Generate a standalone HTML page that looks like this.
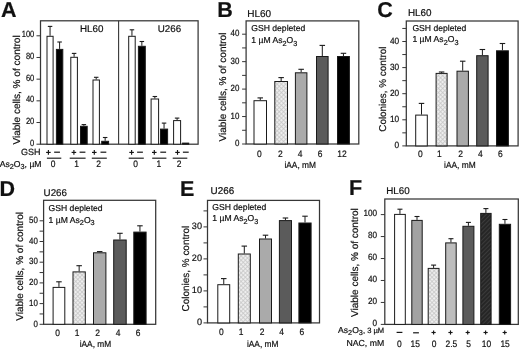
<!DOCTYPE html>
<html><head><meta charset="utf-8"><style>
html,body{margin:0;padding:0;background:#fff;}
body{width:520px;height:349px;overflow:hidden;}
svg{display:block;filter:blur(0.4px);}
text{font-family:"Liberation Sans", sans-serif;fill:#111;stroke:#111;stroke-width:0.2px;text-rendering:geometricPrecision;}
</style></head><body>
<svg width="520" height="349" viewBox="0 0 520 349">
<defs>
<pattern id="hatchL" patternUnits="userSpaceOnUse" width="3" height="3" patternTransform="rotate(45)">
<rect width="3" height="3" fill="#eeeeee"/><line x1="0" y1="0" x2="0" y2="3" stroke="#a8a8a8" stroke-width="0.9"/><line x1="0" y1="1.5" x2="3" y2="1.5" stroke="#c6c6c6" stroke-width="0.8"/>
</pattern>
<pattern id="hatchD" patternUnits="userSpaceOnUse" width="3" height="3" patternTransform="rotate(45)">
<rect width="3" height="3" fill="#262626"/><line x1="0" y1="0" x2="0" y2="3" stroke="#505050" stroke-width="1"/>
</pattern>
</defs>
<rect width="520" height="349" fill="#fff"/>
<text x="1.0" y="17" font-size="21.5" text-anchor="start" font-weight="bold" >A</text>
<rect x="40.5" y="20.8" width="157.6" height="123.39999999999999" fill="none" stroke="#363636" stroke-width="1.25"/>
<line x1="118.6" y1="20.8" x2="118.6" y2="144.2" stroke="#363636" stroke-width="1.1"/>
<line x1="36.5" y1="144.2" x2="40.5" y2="144.2" stroke="#363636" stroke-width="1"/>
<line x1="36.5" y1="122.51999999999998" x2="40.5" y2="122.51999999999998" stroke="#363636" stroke-width="1"/>
<line x1="36.5" y1="100.83999999999999" x2="40.5" y2="100.83999999999999" stroke="#363636" stroke-width="1"/>
<line x1="36.5" y1="79.15999999999998" x2="40.5" y2="79.15999999999998" stroke="#363636" stroke-width="1"/>
<line x1="36.5" y1="57.47999999999999" x2="40.5" y2="57.47999999999999" stroke="#363636" stroke-width="1"/>
<line x1="36.5" y1="35.79999999999998" x2="40.5" y2="35.79999999999998" stroke="#363636" stroke-width="1"/>
<text transform="translate(34.3,145.7) scale(0.84,1)" font-size="9" text-anchor="end">0</text>
<text transform="translate(34.3,124.02) scale(0.84,1)" font-size="9" text-anchor="end">20</text>
<text transform="translate(34.3,102.34) scale(0.84,1)" font-size="9" text-anchor="end">40</text>
<text transform="translate(34.3,80.66) scale(0.84,1)" font-size="9" text-anchor="end">60</text>
<text transform="translate(34.3,58.98) scale(0.84,1)" font-size="9" text-anchor="end">80</text>
<text transform="translate(34.3,37.3) scale(0.84,1)" font-size="9" text-anchor="end">100</text>
<text transform="translate(19.7,144.6) rotate(-90)" x="0" y="0" font-size="10.05">Viable cells, % of control</text>
<text x="80.0" y="31.6" font-size="9.8" text-anchor="start" font-weight="normal" >HL60</text>
<text x="157.7" y="31.5" font-size="9.8" text-anchor="start" font-weight="normal" >U266</text>
<line x1="50.05" y1="35.8" x2="50.05" y2="26.4" stroke="#1a1a1a" stroke-width="1"/>
<line x1="47.8" y1="26.4" x2="52.3" y2="26.4" stroke="#1a1a1a" stroke-width="1.1"/>
<rect x="47.0" y="36.3" width="6.100000000000001" height="107.89999999999999" fill="#fff" stroke="#1a1a1a" stroke-width="1"/>
<line x1="59.599999999999994" y1="48.9" x2="59.599999999999994" y2="42.0" stroke="#1a1a1a" stroke-width="1"/>
<line x1="57.349999999999994" y1="42.0" x2="61.849999999999994" y2="42.0" stroke="#1a1a1a" stroke-width="1.1"/>
<rect x="56.4" y="49.4" width="6.399999999999999" height="94.79999999999998" fill="#000" stroke="#1a1a1a" stroke-width="1"/>
<line x1="74.1" y1="56.8" x2="74.1" y2="53.4" stroke="#1a1a1a" stroke-width="1"/>
<line x1="71.85" y1="53.4" x2="76.35" y2="53.4" stroke="#1a1a1a" stroke-width="1.1"/>
<rect x="70.8" y="57.3" width="6.6000000000000085" height="86.89999999999999" fill="#fff" stroke="#1a1a1a" stroke-width="1"/>
<line x1="83.85" y1="125.8" x2="83.85" y2="124.6" stroke="#1a1a1a" stroke-width="1"/>
<line x1="81.6" y1="124.6" x2="86.1" y2="124.6" stroke="#1a1a1a" stroke-width="1.1"/>
<rect x="80.5" y="126.3" width="6.700000000000003" height="17.89999999999999" fill="#000" stroke="#1a1a1a" stroke-width="1"/>
<line x1="96.2" y1="79.5" x2="96.2" y2="77.3" stroke="#1a1a1a" stroke-width="1"/>
<line x1="93.95" y1="77.3" x2="98.45" y2="77.3" stroke="#1a1a1a" stroke-width="1.1"/>
<rect x="93.0" y="80.0" width="6.400000000000006" height="64.19999999999999" fill="#fff" stroke="#1a1a1a" stroke-width="1"/>
<line x1="105.15" y1="140.8" x2="105.15" y2="137.5" stroke="#1a1a1a" stroke-width="1"/>
<line x1="102.9" y1="137.5" x2="107.4" y2="137.5" stroke="#1a1a1a" stroke-width="1.1"/>
<rect x="101.7" y="141.3" width="6.8999999999999915" height="2.8999999999999773" fill="#000" stroke="#1a1a1a" stroke-width="1"/>
<line x1="131.95" y1="35.8" x2="131.95" y2="29.8" stroke="#1a1a1a" stroke-width="1"/>
<line x1="129.7" y1="29.8" x2="134.2" y2="29.8" stroke="#1a1a1a" stroke-width="1.1"/>
<rect x="128.7" y="36.3" width="6.5" height="107.89999999999999" fill="#fff" stroke="#1a1a1a" stroke-width="1"/>
<line x1="141.85000000000002" y1="45.8" x2="141.85000000000002" y2="41.5" stroke="#1a1a1a" stroke-width="1"/>
<line x1="139.60000000000002" y1="41.5" x2="144.10000000000002" y2="41.5" stroke="#1a1a1a" stroke-width="1.1"/>
<rect x="138.4" y="46.3" width="6.900000000000006" height="97.89999999999999" fill="#000" stroke="#1a1a1a" stroke-width="1"/>
<line x1="154.85" y1="98.5" x2="154.85" y2="96.5" stroke="#1a1a1a" stroke-width="1"/>
<line x1="152.6" y1="96.5" x2="157.1" y2="96.5" stroke="#1a1a1a" stroke-width="1.1"/>
<rect x="151.1" y="99.0" width="7.5" height="45.19999999999999" fill="#fff" stroke="#1a1a1a" stroke-width="1"/>
<line x1="164.05" y1="128.6" x2="164.05" y2="123.1" stroke="#1a1a1a" stroke-width="1"/>
<line x1="161.8" y1="123.1" x2="166.3" y2="123.1" stroke="#1a1a1a" stroke-width="1.1"/>
<rect x="160.5" y="129.1" width="7.099999999999994" height="15.099999999999994" fill="#000" stroke="#1a1a1a" stroke-width="1"/>
<line x1="177.1" y1="120.1" x2="177.1" y2="118.1" stroke="#1a1a1a" stroke-width="1"/>
<line x1="174.85" y1="118.1" x2="179.35" y2="118.1" stroke="#1a1a1a" stroke-width="1.1"/>
<rect x="173.6" y="120.6" width="7.0" height="23.599999999999994" fill="#fff" stroke="#1a1a1a" stroke-width="1"/>
<rect x="182.6" y="143.1" width="6.099999999999994" height="1.0999999999999943" fill="#000" stroke="#1a1a1a" stroke-width="1"/>
<text x="40.4" y="154.6" font-size="9" text-anchor="end" font-weight="normal" >GSH</text>
<line x1="46.1" y1="152.4" x2="50.699999999999996" y2="152.4" stroke="#151515" stroke-width="1.15"/>
<line x1="48.4" y1="150.0" x2="48.4" y2="154.8" stroke="#151515" stroke-width="1.15"/>
<line x1="54.15" y1="152.2" x2="59.949999999999996" y2="152.2" stroke="#151515" stroke-width="1.2"/>
<line x1="71.60000000000001" y1="152.4" x2="76.2" y2="152.4" stroke="#151515" stroke-width="1.15"/>
<line x1="73.9" y1="150.0" x2="73.9" y2="154.8" stroke="#151515" stroke-width="1.15"/>
<line x1="79.6" y1="152.2" x2="85.4" y2="152.2" stroke="#151515" stroke-width="1.2"/>
<line x1="92.0" y1="152.4" x2="96.6" y2="152.4" stroke="#151515" stroke-width="1.15"/>
<line x1="94.3" y1="150.0" x2="94.3" y2="154.8" stroke="#151515" stroke-width="1.15"/>
<line x1="100.5" y1="152.2" x2="106.30000000000001" y2="152.2" stroke="#151515" stroke-width="1.2"/>
<line x1="129.29999999999998" y1="152.4" x2="133.9" y2="152.4" stroke="#151515" stroke-width="1.15"/>
<line x1="131.6" y1="150.0" x2="131.6" y2="154.8" stroke="#151515" stroke-width="1.15"/>
<line x1="137.1" y1="152.2" x2="142.9" y2="152.2" stroke="#151515" stroke-width="1.2"/>
<line x1="152.0" y1="152.4" x2="156.60000000000002" y2="152.4" stroke="#151515" stroke-width="1.15"/>
<line x1="154.3" y1="150.0" x2="154.3" y2="154.8" stroke="#151515" stroke-width="1.15"/>
<line x1="160.29999999999998" y1="152.2" x2="166.1" y2="152.2" stroke="#151515" stroke-width="1.2"/>
<line x1="175.2" y1="152.4" x2="179.8" y2="152.4" stroke="#151515" stroke-width="1.15"/>
<line x1="177.5" y1="150.0" x2="177.5" y2="154.8" stroke="#151515" stroke-width="1.15"/>
<line x1="182.9" y1="152.2" x2="188.70000000000002" y2="152.2" stroke="#151515" stroke-width="1.2"/>
<line x1="46.9" y1="158.2" x2="61.3" y2="158.2" stroke="#222" stroke-width="1.2"/>
<line x1="69.7" y1="158.2" x2="85.6" y2="158.2" stroke="#222" stroke-width="1.2"/>
<line x1="91.8" y1="158.2" x2="106.8" y2="158.2" stroke="#222" stroke-width="1.2"/>
<line x1="128.7" y1="158.2" x2="143.8" y2="158.2" stroke="#222" stroke-width="1.2"/>
<line x1="152.2" y1="158.2" x2="166.4" y2="158.2" stroke="#222" stroke-width="1.2"/>
<line x1="172.7" y1="158.2" x2="187.3" y2="158.2" stroke="#222" stroke-width="1.2"/>
<text x="41.5" y="166.6" font-size="8.6" text-anchor="end">As<tspan font-size="7.31" dy="2.3">2</tspan><tspan dy="-2.3">O</tspan><tspan font-size="7.31" dy="2.3">3</tspan><tspan dy="-2.3">, µM</tspan></text>
<text transform="translate(53.1,167.4) scale(0.9,1)" font-size="9.4" text-anchor="middle">0</text>
<text transform="translate(76.5,167.4) scale(0.9,1)" font-size="9.4" text-anchor="middle">1</text>
<text transform="translate(98.6,167.4) scale(0.9,1)" font-size="9.4" text-anchor="middle">2</text>
<text transform="translate(135.6,167.4) scale(0.9,1)" font-size="9.4" text-anchor="middle">0</text>
<text transform="translate(158.9,167.4) scale(0.9,1)" font-size="9.4" text-anchor="middle">1</text>
<text transform="translate(179.0,167.4) scale(0.9,1)" font-size="9.4" text-anchor="middle">2</text>
<text x="217.2" y="17.0" font-size="21.5" text-anchor="start" font-weight="bold" >B</text>
<text x="247.2" y="16.9" font-size="10" text-anchor="start" font-weight="normal" >HL60</text>
<rect x="246.1" y="20.9" width="112.70000000000002" height="123.1" fill="none" stroke="#363636" stroke-width="1.25"/>
<line x1="242.1" y1="144.0" x2="246.1" y2="144.0" stroke="#363636" stroke-width="1"/>
<line x1="242.1" y1="130.275" x2="246.1" y2="130.275" stroke="#363636" stroke-width="1"/>
<line x1="242.1" y1="116.55" x2="246.1" y2="116.55" stroke="#363636" stroke-width="1"/>
<line x1="242.1" y1="102.82499999999999" x2="246.1" y2="102.82499999999999" stroke="#363636" stroke-width="1"/>
<line x1="242.1" y1="89.1" x2="246.1" y2="89.1" stroke="#363636" stroke-width="1"/>
<line x1="242.1" y1="75.375" x2="246.1" y2="75.375" stroke="#363636" stroke-width="1"/>
<line x1="242.1" y1="61.64999999999999" x2="246.1" y2="61.64999999999999" stroke="#363636" stroke-width="1"/>
<line x1="242.1" y1="47.925" x2="246.1" y2="47.925" stroke="#363636" stroke-width="1"/>
<line x1="242.1" y1="34.19999999999999" x2="246.1" y2="34.19999999999999" stroke="#363636" stroke-width="1"/>
<text transform="translate(239.3,146.2) scale(0.88,1)" font-size="9" text-anchor="end">0</text>
<text transform="translate(239.3,118.75) scale(0.88,1)" font-size="9" text-anchor="end">10</text>
<text transform="translate(239.3,91.3) scale(0.88,1)" font-size="9" text-anchor="end">20</text>
<text transform="translate(239.3,63.85) scale(0.88,1)" font-size="9" text-anchor="end">30</text>
<text transform="translate(239.3,36.4) scale(0.88,1)" font-size="9" text-anchor="end">40</text>
<text transform="translate(226.3,141.4) rotate(-90)" x="0" y="0" font-size="10">Viable cells, % of control</text>
<text x="251.3" y="31.2" font-size="8.6" text-anchor="start" font-weight="normal" >GSH depleted</text>
<text x="251.3" y="43.3" font-size="8.6" text-anchor="start">1 µM As<tspan font-size="7.31" dy="2.4">2</tspan><tspan dy="-2.4">O</tspan><tspan font-size="7.31" dy="2.4">3</tspan></text>
<line x1="260.25" y1="100.2" x2="260.25" y2="97.9" stroke="#1a1a1a" stroke-width="1"/>
<line x1="257.5" y1="97.9" x2="263.0" y2="97.9" stroke="#1a1a1a" stroke-width="1.1"/>
<rect x="254.0" y="100.7" width="12.5" height="43.3" fill="#fff" stroke="#1a1a1a" stroke-width="1"/>
<line x1="281.15" y1="81.0" x2="281.15" y2="77.6" stroke="#1a1a1a" stroke-width="1"/>
<line x1="278.4" y1="77.6" x2="283.9" y2="77.6" stroke="#1a1a1a" stroke-width="1.1"/>
<rect x="274.8" y="81.5" width="12.699999999999989" height="62.5" fill="url(#hatchL)" stroke="#1a1a1a" stroke-width="1"/>
<line x1="301.15" y1="72.3" x2="301.15" y2="69.3" stroke="#1a1a1a" stroke-width="1"/>
<line x1="298.4" y1="69.3" x2="303.9" y2="69.3" stroke="#1a1a1a" stroke-width="1.1"/>
<rect x="295.4" y="72.8" width="11.5" height="71.2" fill="#aaaaaa" stroke="#1a1a1a" stroke-width="1"/>
<line x1="322.3" y1="56.0" x2="322.3" y2="45.4" stroke="#1a1a1a" stroke-width="1"/>
<line x1="319.55" y1="45.4" x2="325.05" y2="45.4" stroke="#1a1a1a" stroke-width="1.1"/>
<rect x="316.5" y="56.5" width="11.600000000000023" height="87.5" fill="#5b5b5b" stroke="#1a1a1a" stroke-width="1"/>
<line x1="343.45" y1="56.0" x2="343.45" y2="53.3" stroke="#1a1a1a" stroke-width="1"/>
<line x1="340.7" y1="53.3" x2="346.2" y2="53.3" stroke="#1a1a1a" stroke-width="1.1"/>
<rect x="337.5" y="56.5" width="11.899999999999977" height="87.5" fill="#000" stroke="#1a1a1a" stroke-width="1"/>
<text transform="translate(259.4,157.2) scale(0.9,1)" font-size="9.4" text-anchor="middle">0</text>
<text transform="translate(280.3,157.2) scale(0.9,1)" font-size="9.4" text-anchor="middle">2</text>
<text transform="translate(300.2,157.2) scale(0.9,1)" font-size="9.4" text-anchor="middle">4</text>
<text transform="translate(320.1,157.2) scale(0.9,1)" font-size="9.4" text-anchor="middle">6</text>
<text transform="translate(342.0,157.2) scale(0.9,1)" font-size="9.4" text-anchor="middle">12</text>
<text transform="translate(300.2,167.8) scale(0.94,1)" font-size="8.9" text-anchor="middle">iAA, mM</text>
<text x="377.2" y="17.2" font-size="21.5" text-anchor="start" font-weight="bold" >C</text>
<text x="407.9" y="15.7" font-size="9.9" text-anchor="start" font-weight="normal" >HL60</text>
<rect x="406.3" y="21.0" width="111.80000000000001" height="124.9" fill="none" stroke="#363636" stroke-width="1.25"/>
<line x1="402.3" y1="145.9" x2="406.3" y2="145.9" stroke="#363636" stroke-width="1"/>
<line x1="402.3" y1="132.85" x2="406.3" y2="132.85" stroke="#363636" stroke-width="1"/>
<line x1="402.3" y1="119.80000000000001" x2="406.3" y2="119.80000000000001" stroke="#363636" stroke-width="1"/>
<line x1="402.3" y1="106.75" x2="406.3" y2="106.75" stroke="#363636" stroke-width="1"/>
<line x1="402.3" y1="93.70000000000002" x2="406.3" y2="93.70000000000002" stroke="#363636" stroke-width="1"/>
<line x1="402.3" y1="80.65" x2="406.3" y2="80.65" stroke="#363636" stroke-width="1"/>
<line x1="402.3" y1="67.60000000000001" x2="406.3" y2="67.60000000000001" stroke="#363636" stroke-width="1"/>
<line x1="402.3" y1="54.55000000000001" x2="406.3" y2="54.55000000000001" stroke="#363636" stroke-width="1"/>
<line x1="402.3" y1="41.500000000000014" x2="406.3" y2="41.500000000000014" stroke="#363636" stroke-width="1"/>
<line x1="402.3" y1="28.450000000000017" x2="406.3" y2="28.450000000000017" stroke="#363636" stroke-width="1"/>
<text transform="translate(399.2,148.1) scale(0.92,1)" font-size="9" text-anchor="end">0</text>
<text transform="translate(399.2,122.0) scale(0.92,1)" font-size="9" text-anchor="end">10</text>
<text transform="translate(399.2,95.9) scale(0.92,1)" font-size="9" text-anchor="end">20</text>
<text transform="translate(399.2,69.8) scale(0.92,1)" font-size="9" text-anchor="end">30</text>
<text transform="translate(399.2,43.7) scale(0.92,1)" font-size="9" text-anchor="end">40</text>
<text transform="translate(386.4,131.7) rotate(-90)" x="0" y="0" font-size="9.9">Colonies, % control</text>
<text x="412.4" y="30.7" font-size="8.6" text-anchor="start" font-weight="normal" >GSH depleted</text>
<text x="412.4" y="42.4" font-size="8.6" text-anchor="start">1 µM As<tspan font-size="7.31" dy="2.4">2</tspan><tspan dy="-2.4">O</tspan><tspan font-size="7.31" dy="2.4">3</tspan></text>
<line x1="421.5" y1="114.6" x2="421.5" y2="103.4" stroke="#1a1a1a" stroke-width="1"/>
<line x1="418.75" y1="103.4" x2="424.25" y2="103.4" stroke="#1a1a1a" stroke-width="1.1"/>
<rect x="415.7" y="115.1" width="11.600000000000023" height="30.80000000000001" fill="#fff" stroke="#1a1a1a" stroke-width="1"/>
<line x1="441.6" y1="72.9" x2="441.6" y2="72.0" stroke="#1a1a1a" stroke-width="1"/>
<line x1="438.85" y1="72.0" x2="444.35" y2="72.0" stroke="#1a1a1a" stroke-width="1.1"/>
<rect x="436.1" y="73.4" width="11.0" height="72.5" fill="url(#hatchL)" stroke="#1a1a1a" stroke-width="1"/>
<line x1="462.7" y1="70.7" x2="462.7" y2="61.2" stroke="#1a1a1a" stroke-width="1"/>
<line x1="459.95" y1="61.2" x2="465.45" y2="61.2" stroke="#1a1a1a" stroke-width="1.1"/>
<rect x="457.0" y="71.2" width="11.399999999999977" height="74.7" fill="#aaaaaa" stroke="#1a1a1a" stroke-width="1"/>
<line x1="482.4" y1="55.2" x2="482.4" y2="49.5" stroke="#1a1a1a" stroke-width="1"/>
<line x1="479.65" y1="49.5" x2="485.15" y2="49.5" stroke="#1a1a1a" stroke-width="1.1"/>
<rect x="476.7" y="55.7" width="11.400000000000034" height="90.2" fill="#5b5b5b" stroke="#1a1a1a" stroke-width="1"/>
<line x1="502.45" y1="50.3" x2="502.45" y2="43.5" stroke="#1a1a1a" stroke-width="1"/>
<line x1="499.7" y1="43.5" x2="505.2" y2="43.5" stroke="#1a1a1a" stroke-width="1.1"/>
<rect x="496.5" y="50.8" width="11.899999999999977" height="95.10000000000001" fill="#000" stroke="#1a1a1a" stroke-width="1"/>
<text transform="translate(420.3,156.5) scale(0.9,1)" font-size="9.4" text-anchor="middle">0</text>
<text transform="translate(439.3,156.5) scale(0.9,1)" font-size="9.4" text-anchor="middle">1</text>
<text transform="translate(460.5,156.5) scale(0.9,1)" font-size="9.4" text-anchor="middle">2</text>
<text transform="translate(480.3,156.5) scale(0.9,1)" font-size="9.4" text-anchor="middle">4</text>
<text transform="translate(500.4,156.5) scale(0.9,1)" font-size="9.4" text-anchor="middle">6</text>
<text transform="translate(459.85,167.8) scale(0.94,1)" font-size="8.9" text-anchor="middle">iAA, mM</text>
<text x="-0.6" y="195.8" font-size="21.5" text-anchor="start" font-weight="bold" >D</text>
<text x="43.6" y="195.6" font-size="9.8" text-anchor="start" font-weight="normal" >U266</text>
<rect x="43.6" y="200.3" width="112.1" height="124.0" fill="none" stroke="#363636" stroke-width="1.25"/>
<line x1="39.6" y1="324.3" x2="43.6" y2="324.3" stroke="#363636" stroke-width="1"/>
<line x1="39.6" y1="313.95" x2="43.6" y2="313.95" stroke="#363636" stroke-width="1"/>
<line x1="39.6" y1="303.6" x2="43.6" y2="303.6" stroke="#363636" stroke-width="1"/>
<line x1="39.6" y1="293.25" x2="43.6" y2="293.25" stroke="#363636" stroke-width="1"/>
<line x1="39.6" y1="282.90000000000003" x2="43.6" y2="282.90000000000003" stroke="#363636" stroke-width="1"/>
<line x1="39.6" y1="272.55" x2="43.6" y2="272.55" stroke="#363636" stroke-width="1"/>
<line x1="39.6" y1="262.20000000000005" x2="43.6" y2="262.20000000000005" stroke="#363636" stroke-width="1"/>
<line x1="39.6" y1="251.85000000000002" x2="43.6" y2="251.85000000000002" stroke="#363636" stroke-width="1"/>
<line x1="39.6" y1="241.5" x2="43.6" y2="241.5" stroke="#363636" stroke-width="1"/>
<line x1="39.6" y1="231.15000000000003" x2="43.6" y2="231.15000000000003" stroke="#363636" stroke-width="1"/>
<line x1="39.6" y1="220.8" x2="43.6" y2="220.8" stroke="#363636" stroke-width="1"/>
<text transform="translate(37.9,326.5) scale(0.88,1)" font-size="9" text-anchor="end">0</text>
<text transform="translate(37.9,305.8) scale(0.88,1)" font-size="9" text-anchor="end">10</text>
<text transform="translate(37.9,285.1) scale(0.88,1)" font-size="9" text-anchor="end">20</text>
<text transform="translate(37.9,264.4) scale(0.88,1)" font-size="9" text-anchor="end">30</text>
<text transform="translate(37.9,243.7) scale(0.88,1)" font-size="9" text-anchor="end">40</text>
<text transform="translate(37.9,223.0) scale(0.88,1)" font-size="9" text-anchor="end">50</text>
<text transform="translate(22.6,320.8) rotate(-90)" x="0" y="0" font-size="10">Viable cells, % of control</text>
<text x="48.6" y="211.0" font-size="8.6" text-anchor="start" font-weight="normal" >GSH depleted</text>
<text x="48.6" y="222.9" font-size="8.6" text-anchor="start">1 µM As<tspan font-size="7.31" dy="2.4">2</tspan><tspan dy="-2.4">O</tspan><tspan font-size="7.31" dy="2.4">3</tspan></text>
<line x1="58.95" y1="286.9" x2="58.95" y2="281.8" stroke="#1a1a1a" stroke-width="1"/>
<line x1="56.2" y1="281.8" x2="61.7" y2="281.8" stroke="#1a1a1a" stroke-width="1.1"/>
<rect x="53.1" y="287.4" width="11.699999999999996" height="36.900000000000034" fill="#fff" stroke="#1a1a1a" stroke-width="1"/>
<line x1="79.15" y1="271.4" x2="79.15" y2="265.7" stroke="#1a1a1a" stroke-width="1"/>
<line x1="76.4" y1="265.7" x2="81.9" y2="265.7" stroke="#1a1a1a" stroke-width="1.1"/>
<rect x="73.0" y="271.9" width="12.299999999999997" height="52.400000000000034" fill="url(#hatchL)" stroke="#1a1a1a" stroke-width="1"/>
<line x1="99.7" y1="252.3" x2="99.7" y2="251.6" stroke="#1a1a1a" stroke-width="1"/>
<line x1="96.95" y1="251.6" x2="102.45" y2="251.6" stroke="#1a1a1a" stroke-width="1.1"/>
<rect x="93.5" y="252.8" width="12.400000000000006" height="71.5" fill="#aaaaaa" stroke="#1a1a1a" stroke-width="1"/>
<line x1="119.95" y1="239.5" x2="119.95" y2="233.3" stroke="#1a1a1a" stroke-width="1"/>
<line x1="117.2" y1="233.3" x2="122.7" y2="233.3" stroke="#1a1a1a" stroke-width="1.1"/>
<rect x="113.7" y="240.0" width="12.5" height="84.30000000000001" fill="#5b5b5b" stroke="#1a1a1a" stroke-width="1"/>
<line x1="139.95" y1="231.6" x2="139.95" y2="225.8" stroke="#1a1a1a" stroke-width="1"/>
<line x1="137.2" y1="225.8" x2="142.7" y2="225.8" stroke="#1a1a1a" stroke-width="1.1"/>
<rect x="133.8" y="232.1" width="12.299999999999983" height="92.20000000000002" fill="#000" stroke="#1a1a1a" stroke-width="1"/>
<text transform="translate(57.5,335.7) scale(0.9,1)" font-size="9.4" text-anchor="middle">0</text>
<text transform="translate(77.1,335.7) scale(0.9,1)" font-size="9.4" text-anchor="middle">1</text>
<text transform="translate(97.7,335.7) scale(0.9,1)" font-size="9.4" text-anchor="middle">2</text>
<text transform="translate(118.0,335.7) scale(0.9,1)" font-size="9.4" text-anchor="middle">4</text>
<text transform="translate(138.1,335.7) scale(0.9,1)" font-size="9.4" text-anchor="middle">6</text>
<text transform="translate(95.45,346.6) scale(0.94,1)" font-size="8.9" text-anchor="middle">iAA, mM</text>
<text x="180.0" y="195.6" font-size="21.5" text-anchor="start" font-weight="bold" >E</text>
<text x="210.6" y="193.8" font-size="9.9" text-anchor="start" font-weight="normal" >U266</text>
<rect x="207.5" y="200.4" width="112.0" height="122.49999999999997" fill="none" stroke="#363636" stroke-width="1.25"/>
<line x1="203.5" y1="322.9" x2="207.5" y2="322.9" stroke="#363636" stroke-width="1"/>
<line x1="203.5" y1="306.9" x2="207.5" y2="306.9" stroke="#363636" stroke-width="1"/>
<line x1="203.5" y1="290.9" x2="207.5" y2="290.9" stroke="#363636" stroke-width="1"/>
<line x1="203.5" y1="274.9" x2="207.5" y2="274.9" stroke="#363636" stroke-width="1"/>
<line x1="203.5" y1="258.9" x2="207.5" y2="258.9" stroke="#363636" stroke-width="1"/>
<line x1="203.5" y1="242.89999999999998" x2="207.5" y2="242.89999999999998" stroke="#363636" stroke-width="1"/>
<line x1="203.5" y1="226.89999999999998" x2="207.5" y2="226.89999999999998" stroke="#363636" stroke-width="1"/>
<line x1="203.5" y1="210.89999999999998" x2="207.5" y2="210.89999999999998" stroke="#363636" stroke-width="1"/>
<text transform="translate(202.0,325.1) scale(0.99,1)" font-size="9.2" text-anchor="end">0</text>
<text transform="translate(202.0,293.1) scale(0.99,1)" font-size="9.2" text-anchor="end">10</text>
<text transform="translate(202.0,261.1) scale(0.99,1)" font-size="9.2" text-anchor="end">20</text>
<text transform="translate(202.0,229.1) scale(0.99,1)" font-size="9.2" text-anchor="end">30</text>
<text transform="translate(189.4,311.4) rotate(-90)" x="0" y="0" font-size="9.95">Colonies, % control</text>
<text x="212.3" y="209.6" font-size="8.6" text-anchor="start" font-weight="normal" >GSH depleted</text>
<text x="212.3" y="221.2" font-size="8.6" text-anchor="start">1 µM As<tspan font-size="7.31" dy="2.4">2</tspan><tspan dy="-2.4">O</tspan><tspan font-size="7.31" dy="2.4">3</tspan></text>
<line x1="223.75" y1="284.2" x2="223.75" y2="278.6" stroke="#1a1a1a" stroke-width="1"/>
<line x1="221.0" y1="278.6" x2="226.5" y2="278.6" stroke="#1a1a1a" stroke-width="1.1"/>
<rect x="217.8" y="284.7" width="11.899999999999977" height="38.19999999999999" fill="#fff" stroke="#1a1a1a" stroke-width="1"/>
<line x1="244.3" y1="253.5" x2="244.3" y2="246.1" stroke="#1a1a1a" stroke-width="1"/>
<line x1="241.55" y1="246.1" x2="247.05" y2="246.1" stroke="#1a1a1a" stroke-width="1.1"/>
<rect x="238.3" y="254.0" width="12.0" height="68.89999999999998" fill="url(#hatchL)" stroke="#1a1a1a" stroke-width="1"/>
<line x1="265.5" y1="238.5" x2="265.5" y2="235.2" stroke="#1a1a1a" stroke-width="1"/>
<line x1="262.75" y1="235.2" x2="268.25" y2="235.2" stroke="#1a1a1a" stroke-width="1.1"/>
<rect x="259.5" y="239.0" width="12.0" height="83.89999999999998" fill="#aaaaaa" stroke="#1a1a1a" stroke-width="1"/>
<line x1="285.45" y1="220.1" x2="285.45" y2="218.0" stroke="#1a1a1a" stroke-width="1"/>
<line x1="282.7" y1="218.0" x2="288.2" y2="218.0" stroke="#1a1a1a" stroke-width="1.1"/>
<rect x="279.4" y="220.6" width="12.100000000000023" height="102.29999999999998" fill="#5b5b5b" stroke="#1a1a1a" stroke-width="1"/>
<line x1="305.0" y1="222.5" x2="305.0" y2="216.2" stroke="#1a1a1a" stroke-width="1"/>
<line x1="302.25" y1="216.2" x2="307.75" y2="216.2" stroke="#1a1a1a" stroke-width="1.1"/>
<rect x="298.9" y="223.0" width="12.200000000000045" height="99.89999999999998" fill="#000" stroke="#1a1a1a" stroke-width="1"/>
<text transform="translate(221.4,334.9) scale(0.9,1)" font-size="9.4" text-anchor="middle">0</text>
<text transform="translate(241.2,334.9) scale(0.9,1)" font-size="9.4" text-anchor="middle">1</text>
<text transform="translate(262.0,334.9) scale(0.9,1)" font-size="9.4" text-anchor="middle">2</text>
<text transform="translate(281.7,334.9) scale(0.9,1)" font-size="9.4" text-anchor="middle">4</text>
<text transform="translate(301.8,334.9) scale(0.9,1)" font-size="9.4" text-anchor="middle">6</text>
<text transform="translate(262.7,346.6) scale(0.94,1)" font-size="8.9" text-anchor="middle">iAA, mM</text>
<text x="349.0" y="195.4" font-size="21.5" text-anchor="start" font-weight="bold" >F</text>
<text x="386.2" y="193.8" font-size="9.8" text-anchor="start" font-weight="normal" >HL60</text>
<rect x="384.8" y="199.0" width="133.49999999999994" height="125.39999999999998" fill="none" stroke="#363636" stroke-width="1.25"/>
<line x1="380.8" y1="324.4" x2="384.8" y2="324.4" stroke="#363636" stroke-width="1"/>
<line x1="380.8" y1="302.44" x2="384.8" y2="302.44" stroke="#363636" stroke-width="1"/>
<line x1="380.8" y1="280.47999999999996" x2="384.8" y2="280.47999999999996" stroke="#363636" stroke-width="1"/>
<line x1="380.8" y1="258.52" x2="384.8" y2="258.52" stroke="#363636" stroke-width="1"/>
<line x1="380.8" y1="236.55999999999997" x2="384.8" y2="236.55999999999997" stroke="#363636" stroke-width="1"/>
<line x1="380.8" y1="214.59999999999997" x2="384.8" y2="214.59999999999997" stroke="#363636" stroke-width="1"/>
<text transform="translate(377.1,325.8) scale(0.91,1)" font-size="9" text-anchor="end">0</text>
<text transform="translate(377.1,303.84) scale(0.91,1)" font-size="9" text-anchor="end">20</text>
<text transform="translate(377.1,281.88) scale(0.91,1)" font-size="9" text-anchor="end">40</text>
<text transform="translate(377.1,259.92) scale(0.91,1)" font-size="9" text-anchor="end">60</text>
<text transform="translate(377.1,237.96) scale(0.91,1)" font-size="9" text-anchor="end">80</text>
<text transform="translate(377.1,216.0) scale(0.91,1)" font-size="9" text-anchor="end">100</text>
<text transform="translate(358.0,317.0) rotate(-90)" x="0" y="0" font-size="10">Viable cells, % of control</text>
<line x1="399.95000000000005" y1="213.9" x2="399.95000000000005" y2="209.2" stroke="#1a1a1a" stroke-width="1"/>
<line x1="397.45000000000005" y1="209.2" x2="402.45000000000005" y2="209.2" stroke="#1a1a1a" stroke-width="1.1"/>
<rect x="394.6" y="214.4" width="10.699999999999989" height="109.99999999999997" fill="#fff" stroke="#1a1a1a" stroke-width="1"/>
<line x1="417.0" y1="219.9" x2="417.0" y2="216.5" stroke="#1a1a1a" stroke-width="1"/>
<line x1="414.5" y1="216.5" x2="419.5" y2="216.5" stroke="#1a1a1a" stroke-width="1.1"/>
<rect x="411.8" y="220.4" width="10.399999999999977" height="103.99999999999997" fill="#a2a2a2" stroke="#1a1a1a" stroke-width="1"/>
<line x1="433.6" y1="267.9" x2="433.6" y2="265.1" stroke="#1a1a1a" stroke-width="1"/>
<line x1="431.1" y1="265.1" x2="436.1" y2="265.1" stroke="#1a1a1a" stroke-width="1.1"/>
<rect x="428.2" y="268.4" width="10.800000000000011" height="56.0" fill="url(#hatchL)" stroke="#1a1a1a" stroke-width="1"/>
<line x1="450.95" y1="242.4" x2="450.95" y2="238.7" stroke="#1a1a1a" stroke-width="1"/>
<line x1="448.45" y1="238.7" x2="453.45" y2="238.7" stroke="#1a1a1a" stroke-width="1.1"/>
<rect x="445.7" y="242.9" width="10.5" height="81.49999999999997" fill="#bdbdbd" stroke="#1a1a1a" stroke-width="1"/>
<line x1="468.4" y1="225.8" x2="468.4" y2="222.4" stroke="#1a1a1a" stroke-width="1"/>
<line x1="465.9" y1="222.4" x2="470.9" y2="222.4" stroke="#1a1a1a" stroke-width="1.1"/>
<rect x="462.9" y="226.3" width="11.0" height="98.09999999999997" fill="#5b5b5b" stroke="#1a1a1a" stroke-width="1"/>
<line x1="485.9" y1="212.9" x2="485.9" y2="208.6" stroke="#1a1a1a" stroke-width="1"/>
<line x1="483.4" y1="208.6" x2="488.4" y2="208.6" stroke="#1a1a1a" stroke-width="1.1"/>
<rect x="480.7" y="213.4" width="10.400000000000034" height="110.99999999999997" fill="url(#hatchD)" stroke="#1a1a1a" stroke-width="1"/>
<line x1="504.95000000000005" y1="223.8" x2="504.95000000000005" y2="219.5" stroke="#1a1a1a" stroke-width="1"/>
<line x1="502.45000000000005" y1="219.5" x2="507.45000000000005" y2="219.5" stroke="#1a1a1a" stroke-width="1.1"/>
<rect x="499.3" y="224.3" width="11.300000000000011" height="100.09999999999997" fill="#000" stroke="#1a1a1a" stroke-width="1"/>
<text x="384.2" y="332.6" font-size="8.6" text-anchor="end">As<tspan font-size="7.31" dy="2.2">2</tspan><tspan dy="-2.2">O</tspan><tspan font-size="7.31" dy="2.2">3</tspan><tspan dy="-2.2"><tspan font-size="7.6">, 3 µM</tspan></tspan></text>
<text x="384.2" y="346.2" font-size="8.7" text-anchor="end" font-weight="normal" >NAC, mM</text>
<line x1="396.6" y1="332.4" x2="402.4" y2="332.4" stroke="#151515" stroke-width="1.2"/>
<line x1="413.1" y1="332.8" x2="418.9" y2="332.8" stroke="#151515" stroke-width="1.2"/>
<line x1="431.5" y1="332.5" x2="435.70000000000005" y2="332.5" stroke="#151515" stroke-width="1.15"/>
<line x1="433.6" y1="330.4" x2="433.6" y2="334.6" stroke="#151515" stroke-width="1.15"/>
<line x1="448.4" y1="332.5" x2="452.6" y2="332.5" stroke="#151515" stroke-width="1.15"/>
<line x1="450.5" y1="330.4" x2="450.5" y2="334.6" stroke="#151515" stroke-width="1.15"/>
<line x1="465.59999999999997" y1="332.5" x2="469.8" y2="332.5" stroke="#151515" stroke-width="1.15"/>
<line x1="467.7" y1="330.4" x2="467.7" y2="334.6" stroke="#151515" stroke-width="1.15"/>
<line x1="483.5" y1="332.5" x2="487.70000000000005" y2="332.5" stroke="#151515" stroke-width="1.15"/>
<line x1="485.6" y1="330.4" x2="485.6" y2="334.6" stroke="#151515" stroke-width="1.15"/>
<line x1="502.59999999999997" y1="332.5" x2="506.8" y2="332.5" stroke="#151515" stroke-width="1.15"/>
<line x1="504.7" y1="330.4" x2="504.7" y2="334.6" stroke="#151515" stroke-width="1.15"/>
<text transform="translate(399.4,347.0) scale(0.9,1)" font-size="9.4" text-anchor="middle">0</text>
<text transform="translate(415.3,347.0) scale(0.9,1)" font-size="9.4" text-anchor="middle">15</text>
<text transform="translate(434.0,347.0) scale(0.9,1)" font-size="9.4" text-anchor="middle">0</text>
<text transform="translate(451.3,347.0) scale(0.9,1)" font-size="9.4" text-anchor="middle">2.5</text>
<text transform="translate(468.6,347.0) scale(0.9,1)" font-size="9.4" text-anchor="middle">5</text>
<text transform="translate(486.5,347.0) scale(0.9,1)" font-size="9.4" text-anchor="middle">10</text>
<text transform="translate(505.1,347.0) scale(0.9,1)" font-size="9.4" text-anchor="middle">15</text>
</svg>
</body></html>
